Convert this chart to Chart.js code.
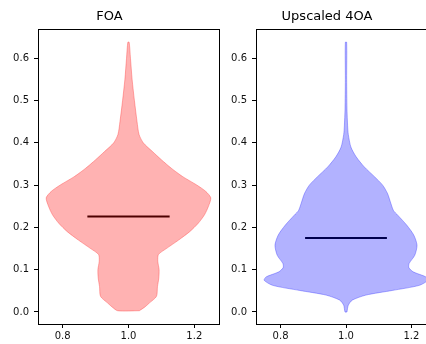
<!DOCTYPE html>
<html>
<head>
<meta charset="utf-8">
<script src="https://cdn.jsdelivr.net/npm/chart.js@4.4.1/dist/chart.umd.min.js"></script>
<style>
  html, body { margin: 0; padding: 0; background: #fff; overflow: hidden; width: 426px; height: 344px; }
  canvas { position: absolute; top: 0; }
  #c1 { left: 0; }
  #c2 { left: 218px; }
</style>
</head>
<body>
<canvas id="c1" width="222" height="344"></canvas>
<canvas id="c2" width="221" height="344"></canvas>
<script>
const titles = ['FOA', 'Upscaled 4OA'];
const xTicks = [0.8, 1.0, 1.2];
const yTicks = [0.0, 0.1, 0.2, 0.3, 0.4, 0.5, 0.6];

// violin outline: value levels (bottom to top) and half width at each level
const foaY = [0.003, 0.012, 0.021, 0.037, 0.06, 0.08, 0.10, 0.12, 0.136, 0.15, 0.17, 0.19, 0.21, 0.23, 0.25, 0.27, 0.285, 0.30, 0.32, 0.34, 0.36, 0.38, 0.40, 0.42, 0.45, 0.50, 0.55, 0.60, 0.638];
const foaWidth = [0.033, 0.05, 0.063, 0.085, 0.088, 0.092, 0.093, 0.089, 0.091, 0.115, 0.152, 0.186, 0.212, 0.231, 0.243, 0.250, 0.235, 0.208, 0.165, 0.13, 0.100, 0.072, 0.045, 0.032, 0.026, 0.018, 0.011, 0.006, 0.002];
const foaMean = 0.226;

const upY = [0.0, 0.016, 0.028, 0.040, 0.051, 0.063, 0.075, 0.083, 0.095, 0.105, 0.115, 0.134, 0.158, 0.182, 0.205, 0.229, 0.24, 0.257, 0.28, 0.30, 0.32, 0.343, 0.367, 0.39, 0.42, 0.44, 0.48, 0.55, 0.638];
const upWidth = [0.003, 0.007, 0.019, 0.061, 0.142, 0.224, 0.25, 0.244, 0.205, 0.192, 0.193, 0.21, 0.217, 0.207, 0.186, 0.158, 0.145, 0.137, 0.127, 0.112, 0.087, 0.056, 0.031, 0.015, 0.007, 0.005, 0.003, 0.002, 0.002];
const upMean = 0.175;

function outline(ys, ws) {
  const right = ys.map((y, i) => ({ x: 1 + ws[i], y: y }));
  const left = ys.map((y, i) => ({ x: 1 - ws[i], y: y })).reverse();
  const pts = right.concat(left);
  pts.push(right[0]);
  return pts;
}

const framePlugin = {
  id: 'frame',
  afterDraw(chart) {
    const a = chart.chartArea;
    const ctx = chart.ctx;
    ctx.save();
    ctx.strokeStyle = '#000';
    ctx.lineWidth = 1;
    ctx.strokeRect(Math.round(a.left) + 0.5, Math.round(a.top) + 0.5, Math.round(a.right - a.left), Math.round(a.bottom - a.top));
    ctx.restore();
  }
};

function makeChart(id, title, ys, ws, mean, fill, edge) {
  const ctx = document.getElementById(id).getContext('2d');
  return new Chart(ctx, {
    type: 'scatter',
    data: {
      datasets: [{
        data: outline(ys, ws),
        showLine: true,
        fill: 'shape',
        backgroundColor: fill,
        borderColor: edge,
        borderWidth: 1,
        pointRadius: 0,
        tension: 0.25
      }, {
        data: [{ x: 0.875, y: mean }, { x: 1.125, y: mean }],
        showLine: true,
        fill: false,
        borderColor: '#000',
        borderWidth: 2,
        pointRadius: 0
      }]
    },
    options: {
      responsive: false,
      animation: false,
      layout: { padding: { left: 0, right: 3, top: 0, bottom: 0 } },
      plugins: {
        legend: { display: false },
        tooltip: { enabled: false },
        title: {
          display: true,
          text: title,
          color: '#000',
          font: { family: 'DejaVu Sans', size: 13, weight: 'normal' },
          padding: { top: 8.7, bottom: 5 }
        }
      },
      scales: {
        x: {
          type: 'linear',
          min: 0.725,
          max: 1.275,
          afterBuildTicks: s => { s.ticks = xTicks.map(v => ({ value: v })); },
          afterFit: s => { s.height = 20; },
          ticks: {
            color: '#111',
            font: { family: 'DejaVu Sans', size: 10 },
            padding: 2,
            maxRotation: 0,
            callback: v => v.toFixed(1)
          },
          grid: { drawOnChartArea: false, drawTicks: true, tickLength: 4, color: '#000' },
          border: { display: false }
        },
        y: {
          type: 'linear',
          min: -0.0284,
          max: 0.6686,
          afterBuildTicks: s => { s.ticks = yTicks.map(v => ({ value: v })); },
          afterFit: s => { s.width = 38; },
          ticks: {
            color: '#111',
            font: { family: 'DejaVu Sans', size: 10 },
            padding: 5,
            callback: v => v.toFixed(1)
          },
          grid: { drawOnChartArea: false, drawTicks: true, tickLength: 4, color: '#000' },
          border: { display: false }
        }
      }
    },
    plugins: [framePlugin]
  });
}

makeChart('c1', titles[0], foaY, foaWidth, foaMean, 'rgba(255, 0, 0, 0.3)', 'rgba(255, 60, 60, 0.4)');
makeChart('c2', titles[1], upY, upWidth, upMean, 'rgba(0, 0, 255, 0.3)', 'rgba(60, 60, 255, 0.4)');
</script>
</body>
</html>
